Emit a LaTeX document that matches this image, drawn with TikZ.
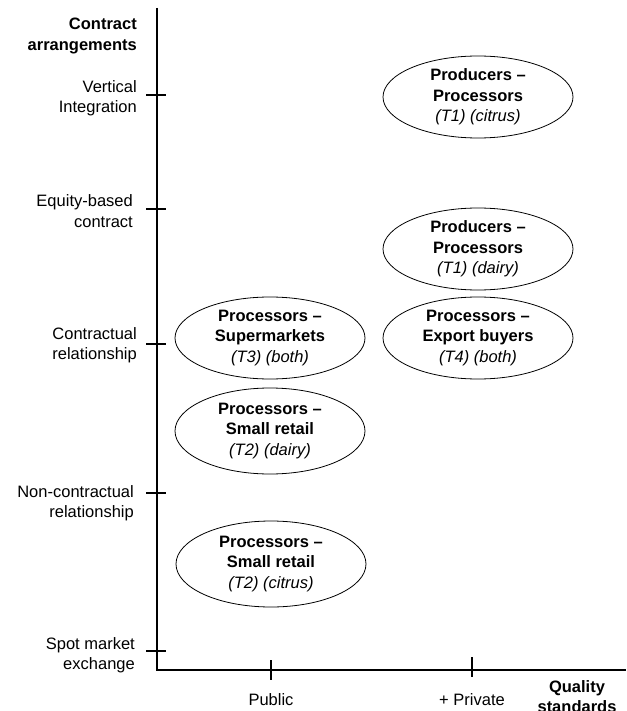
\documentclass[tikz,border=0pt]{standalone}
\usepackage{fontspec}
\setmainfont{Liberation Sans}
\usetikzlibrary{shapes.geometric}
\begin{document}
\begin{tikzpicture}[x=1pt,y=-1pt,
  lbl/.style={font=\fontsize{16.5}{20.5}\selectfont, align=right, anchor=east, inner sep=0pt},
  xlbl/.style={font=\fontsize{16.5}{20.5}\selectfont, align=center, inner sep=0pt},
  bub/.style={ellipse, draw, line width=0.8pt, minimum width=190pt, minimum height=82pt,
              inner sep=0pt, align=center, font=\fontsize{16.5}{20.5}\selectfont},
  axisline/.style={line width=1.4pt},
  tickline/.style={line width=1.4pt}]
\useasboundingbox (0,0) rectangle (626,711);
% axes
\coordinate (Ytop) at (157,8);
\coordinate (O) at (157,670);
\coordinate (Xend) at (626,670);
\draw[axisline] (Ytop) -- (O) -- (Xend);
% y ticks
\foreach \n/\y in {vi/95, eq/209, co/344, nc/493, sp/651}{
  \coordinate (t\n a) at (146,\y);
  \coordinate (t\n b) at (166,\y);
  \draw[tickline] (t\n a) -- (t\n b);
}
% x ticks
\coordinate (pua) at (271,660); \coordinate (pub) at (271,680);
\coordinate (pra) at (472,657); \coordinate (prb) at (472,677);
\draw[tickline] (pua) -- (pub);
\draw[tickline] (pra) -- (prb);
% y labels
\node[lbl, font=\fontsize{16.5}{21}\bfseries] (ytitle) at (137,36) {Contract\\arrangements};
\node[lbl] (lvi) at (137,98) {Vertical\\Integration};
\node[lbl] (leq) at (133,211) {Equity-based\\contract};
\node[lbl] (lco) at (137,345) {Contractual\\relationship};
\node[lbl] (lnc) at (134,503) {Non-contractual\\relationship};
\node[lbl] (lsp) at (135,655) {Spot market\\exchange};
% x labels
\node[xlbl] (lpu) at (271,700) {Public};
\node[xlbl] (lpr) at (472,700) {+ Private};
\node[xlbl, font=\fontsize{16.5}{20}\bfseries] (xtitle) at (577,697) {Quality\\standards};
% ellipses
\node[bub] (e1) at (478,97) {\textbf{Producers –}\\\textbf{Processors}\\\textit{(T1) (citrus)}};
\node[bub] (e2) at (478,249) {\textbf{Producers –}\\\textbf{Processors}\\\textit{(T1) (dairy)}};
\node[bub] (e3) at (270,338) {\textbf{Processors –}\\\textbf{Supermarkets}\\\textit{(T3) (both)}};
\node[bub] (e4) at (478,338) {\textbf{Processors –}\\\textbf{Export buyers}\\\textit{(T4) (both)}};
\node[bub, minimum height=86pt] (e5) at (270,431) {\textbf{Processors –}\\\textbf{Small retail}\\\textit{(T2) (dairy)}};
\node[bub, minimum height=86pt] (e6) at (271,564) {\textbf{Processors –}\\\textbf{Small retail}\\\textit{(T2) (citrus)}};
\end{tikzpicture}
\end{document}
